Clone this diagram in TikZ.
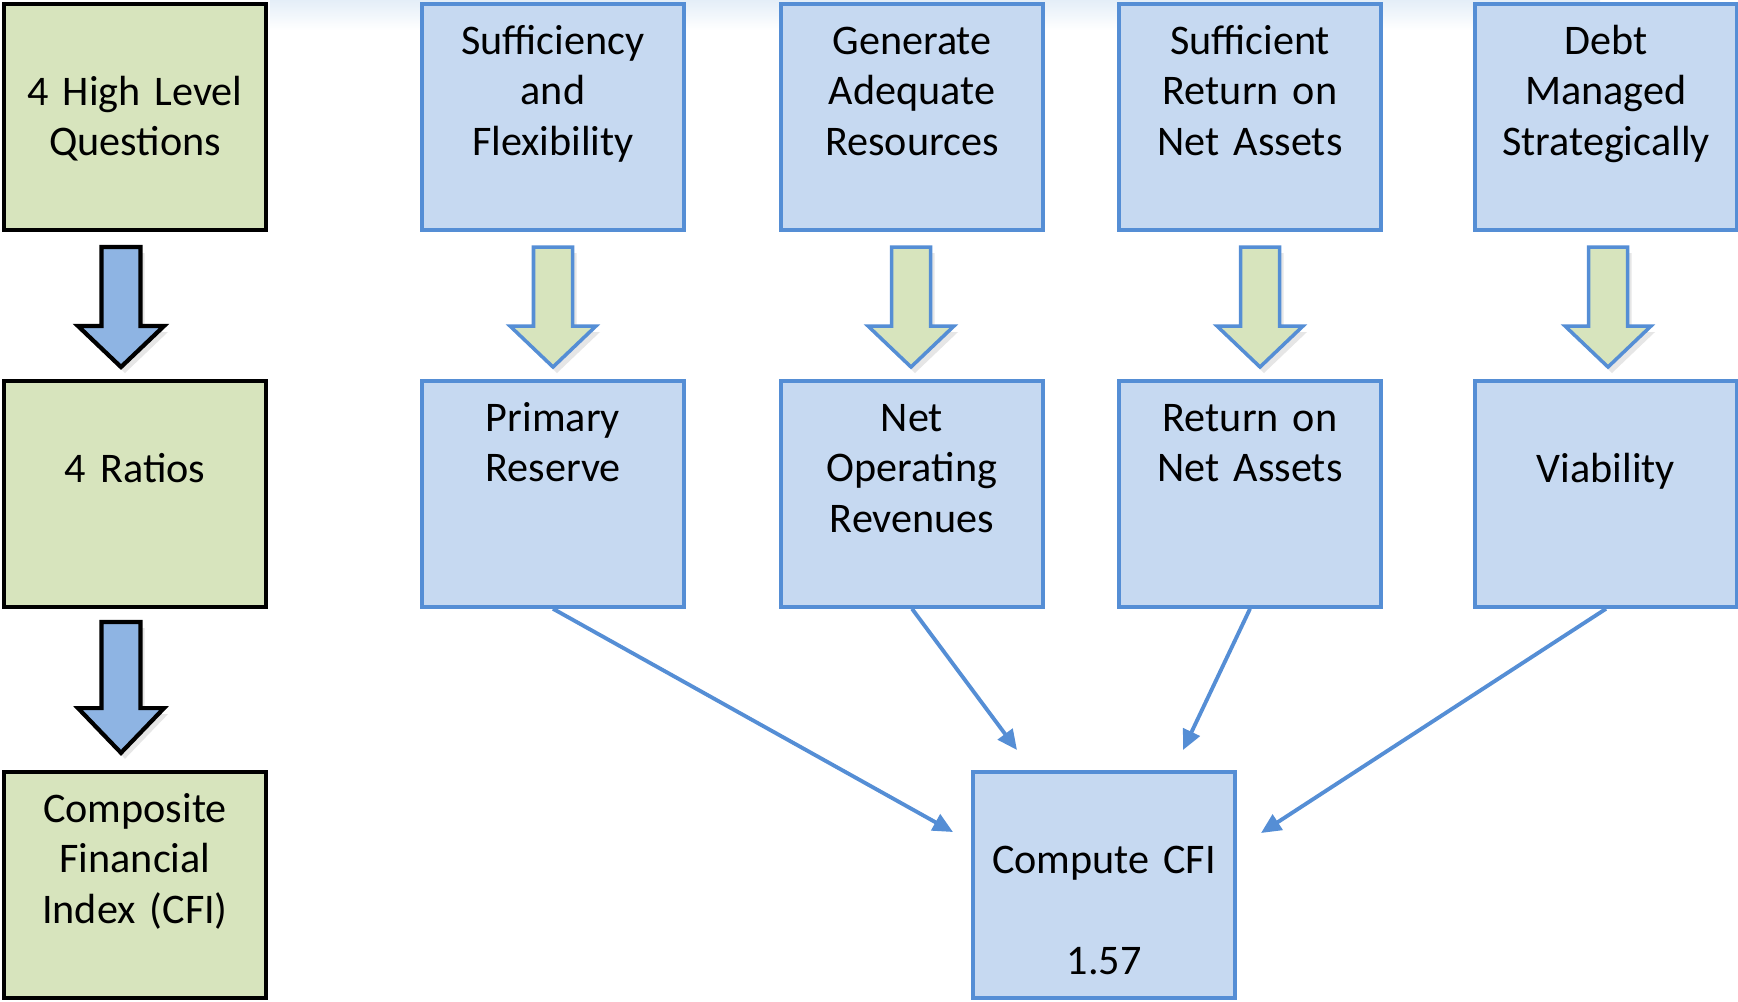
\documentclass[tikz,border=0pt]{standalone}
\usepackage{fontspec}
\setmainfont{Carlito}
\usetikzlibrary{positioning,arrows.meta,shadows}
\definecolor{qGreen}{HTML}{D7E4BD}
\definecolor{ratioBlue}{HTML}{C6D9F1}
\definecolor{edgeBlue}{HTML}{558ED5}
\definecolor{flowBlue}{HTML}{8EB4E3}
\definecolor{glowBlue}{HTML}{E4EEF8}
\newcommand{\boxFont}{\fontsize{12}{14.5}\selectfont\spaceskip=2.2pt plus 1pt minus 0.5pt\relax}

\begin{document}
\begin{tikzpicture}[
    font=\boxFont,
    stepBox/.style={rectangle, draw=edgeBlue, fill=ratioBlue, line width=1pt, text width=2.62cm, align=center, inner sep=0pt, text height=0.50cm, text depth=1.76cm},
    levelBox/.style={stepBox, draw=black, fill=qGreen, line width=1.2pt},
    lowerStart/.style={text height=1.01cm, text depth=1.25cm},
    feedArrow/.style={-{Triangle[length=2mm,width=1.8mm]}, draw=edgeBlue, line width=1.1pt},
    blockArrow/.pic={
        \path[pic actions, drop shadow={shadow xshift=0.4mm, shadow yshift=-0.6mm, opacity=0.2}]
            (-0.195,0) -- (-0.195,-0.79) -- (-0.43,-0.79) -- (0,-1.20) -- (0.43,-0.79) -- (0.195,-0.79) -- (0.195,0) -- cycle;
    }
]
    \useasboundingbox (0,0) rectangle (17.38,-10.01);
    \shade[top color=glowBlue, bottom color=white] (2.7,0) rectangle (16.0,-0.3);

    % left column
    \node[levelBox, lowerStart] (questions) at (1.35,-1.17) {4 High Level\\Questions};
    \node[levelBox, lowerStart] (ratios) at (1.35,-4.94) {4 Ratios};
    \node[levelBox] (cfiIndex) at (1.35,-8.85) {Composite\\Financial\\Index (CFI)};

    \pic[draw=black, fill=flowBlue, line width=1.2pt] (toRatios) at (1.21,-2.47) {blockArrow};
    \pic[draw=black, fill=flowBlue, line width=1.2pt, yscale=1.09] (toIndex) at (1.21,-6.22) {blockArrow};

    % questions
    \node[stepBox] (sufficiency) at (5.53,-1.17) {Sufficiency\\and\\Flexibility};
    \node[stepBox] (resources) at (9.12,-1.17) {Generate\\Adequate\\Resources};
    \node[stepBox] (returnQ) at (12.50,-1.17) {Sufficient\\Return on\\Net Assets};
    \node[stepBox] (debt) at (16.06,-1.17) {Debt\\Managed\\Strategically};

    \pic[draw=edgeBlue, fill=qGreen, line width=1pt] (toReserve) at (5.53,-2.47) {blockArrow};
    \pic[draw=edgeBlue, fill=qGreen, line width=1pt] (toOperating) at (9.11,-2.47) {blockArrow};
    \pic[draw=edgeBlue, fill=qGreen, line width=1pt] (toRona) at (12.60,-2.47) {blockArrow};
    \pic[draw=edgeBlue, fill=qGreen, line width=1pt] (toViability) at (16.08,-2.47) {blockArrow};

    % ratios
    \node[stepBox] (reserve) at (5.53,-4.94) {Primary\\Reserve};
    \node[stepBox] (operating) at (9.12,-4.94) {Net\\Operating\\Revenues};
    \node[stepBox] (rona) at (12.50,-4.94) {Return on\\Net Assets};
    \node[stepBox, lowerStart] (viability) at (16.06,-4.94) {Viability};

    \node[stepBox, lowerStart] (compute) at (11.04,-8.85) {Compute CFI\\[14.5pt]1.57};

    \coordinate (inLeft) at (9.53,-8.32);
    \coordinate (inMidL) at (10.17,-7.50);
    \coordinate (inMidR) at (11.83,-7.50);
    \coordinate (inRight) at (12.61,-8.33);
    \draw[feedArrow] (reserve.south) -- (inLeft);
    \draw[feedArrow] (operating.south) -- (inMidL);
    \draw[feedArrow] (rona.south) -- (inMidR);
    \draw[feedArrow] (viability.south) -- (inRight);
\end{tikzpicture}
\end{document}
